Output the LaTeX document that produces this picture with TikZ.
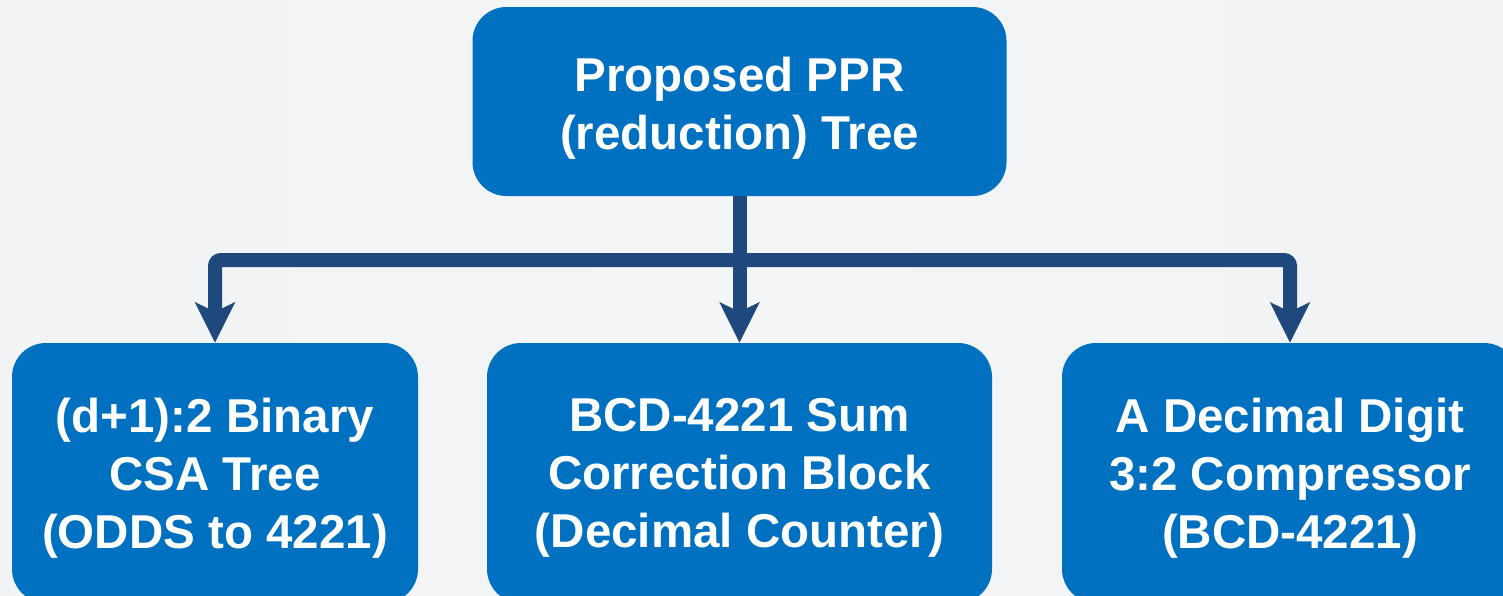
\documentclass[tikz,border=0pt]{standalone}
\usepackage{fontspec}
\setmainfont{Liberation Sans}
\usetikzlibrary{arrows.meta}

\definecolor{boxblue}{RGB}{0,112,192}
\definecolor{linkblue}{RGB}{31,73,125}
\definecolor{bgedge}{RGB}{228,228,229}
\definecolor{bgside}{RGB}{235,235,236}
\definecolor{bgnear}{RGB}{240,241,242}
\definecolor{bgmid}{RGB}{243,245,247}

% soft grey panel, darker towards the left and right edges
\pgfdeclarehorizontalshading{panelbg}{100bp}{%
  color(0bp)=(bgedge); color(3bp)=(bgside); color(9bp)=(bgnear);
  color(50bp)=(bgmid); color(92bp)=(bgnear); color(97bp)=(bgside);
  color(100bp)=(bgedge)}

\begin{document}
\begin{tikzpicture}[x=1pt,y=-1pt,
  block/.style={fill=boxblue, rounded corners=34pt, inner sep=0pt},
  blocktext/.style={text=white, align=center, inner sep=0pt,
    font=\fontsize{47.5}{58}\selectfont\bfseries},
  link/.style={draw=linkblue, line width=14pt, rounded corners=6pt},
  tip/.style={-{Stealth[length=40pt,width=39pt,inset=9pt]}}]

\useasboundingbox (0,0) rectangle (1503,595);
\shade[shading=panelbg] (0,0) rectangle (1503,595);

% root of the reduction tree
\node[block, minimum width=534pt, minimum height=189pt] (top) at (739.5,101.5) {};
\node[blocktext] (topText) at ([yshift=-7pt]top.center)
  {Proposed PPR\\(reduction) Tree};

% the three sub-blocks
\node[block, minimum width=406pt, minimum height=260pt] (odds) at (215,473) {};
\node[blocktext] (oddsText) at ([yshift=-5pt]odds.center)
  {(d+1):2 Binary\\CSA Tree\\(ODDS to 4221)};

\node[block, minimum width=505pt, minimum height=260pt] (sum) at (739.5,473) {};
\node[blocktext] (sumText) at ([yshift=-5pt]sum.center)
  {BCD-4221 Sum\\Correction Block\\(Decimal Counter)};

\node[block, minimum width=456pt, minimum height=260pt] (comp) at (1290,473) {};
\node[blocktext] (compText) at ([yshift=-5pt]comp.center)
  {A Decimal Digit\\3:2 Compressor\\(BCD-4221)};

% branching connectors
\coordinate (hub) at (739.5,260);
\draw[link] (top.south) -- (hub);
\draw[link, tip] (hub) -- (sum.north);
\draw[link, tip] (hub) -| (odds.north);
\draw[link, tip] (hub) -| (comp.north);
\end{tikzpicture}
\end{document}
